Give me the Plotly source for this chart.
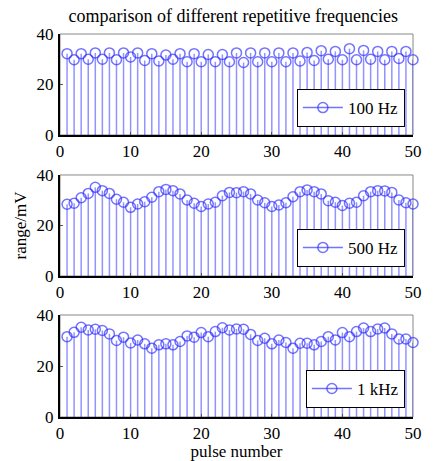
import plotly.graph_objects as go
from plotly.subplots import make_subplots

pulse = list(range(1, 51))

labels = ["100 Hz", "500 Hz", "1 kHz"]

amp_100hz = [32.2, 29.8, 32.2, 30.0, 32.5, 30.0, 32.5, 29.8, 32.5, 30.9,
             32.5, 29.5, 32.2, 29.3, 31.7, 30.0, 32.2, 29.0, 32.2, 29.0,
             31.9, 29.0, 31.9, 29.0, 32.5, 28.7, 32.5, 29.0, 32.5, 29.0,
             32.5, 29.0, 32.5, 29.3, 32.7, 29.5, 33.4, 30.0, 33.1, 29.8,
             34.2, 29.8, 33.5, 30.0, 33.1, 29.8, 33.1, 30.3, 33.1, 29.8]

amp_500hz = [28.4, 28.8, 31.0, 32.7, 35.1, 33.8, 32.7, 30.4, 29.2, 27.2,
             28.5, 29.4, 31.2, 33.4, 34.3, 33.8, 32.5, 30.1, 28.8, 27.5,
             28.5, 29.2, 31.8, 33.1, 33.0, 33.4, 32.5, 30.1, 29.0, 27.5,
             28.1, 29.0, 31.4, 33.4, 34.1, 33.4, 32.5, 29.8, 29.2, 27.9,
             28.8, 29.2, 31.8, 33.4, 33.8, 33.7, 33.1, 30.1, 29.0, 28.5]

amp_1khz = [31.5, 33.2, 35.2, 34.1, 34.4, 33.9, 32.6, 30.0, 31.3, 29.0,
            30.2, 28.7, 27.0, 28.3, 28.7, 28.3, 29.6, 31.8, 31.3, 33.1,
            31.5, 33.5, 35.0, 34.1, 34.5, 34.4, 32.4, 30.0, 30.9, 28.7,
            30.2, 29.2, 27.0, 28.9, 28.9, 28.3, 29.6, 31.5, 30.2, 33.1,
            31.5, 33.5, 34.9, 33.5, 34.5, 34.9, 32.6, 30.6, 30.6, 29.2]

series = [amp_100hz, amp_500hz, amp_1khz]

x_ticks = [0, 10, 20, 30, 40, 50]
y_ticks = [0, 20, 40]

FONT = "Liberation Serif"
STEM = "rgba(40,40,255,0.5)"
MARK = "rgba(40,40,255,0.65)"

fig = make_subplots(rows=3, cols=1, vertical_spacing=0.1)

domains = [[0.7363, 1.0], [0.3681, 0.6319], [0.0, 0.2663]]
legend_y = [0.757, 0.392, 0.0235]
legend_names = ["legend", "legend2", "legend3"]

for i, (vals, lab) in enumerate(zip(series, labels)):
    r = i + 1
    # stems
    sx, sy = [], []
    for xv, yv in zip(pulse, vals):
        sx += [xv, xv, None]
        sy += [0, yv, None]
    fig.add_trace(go.Scatter(x=sx, y=sy, mode="lines",
                             line=dict(color=STEM, width=1.5),
                             showlegend=False, hoverinfo="skip",
                             cliponaxis=False), row=r, col=1)
    fig.add_trace(go.Scatter(x=pulse, y=vals, mode="markers",
                             marker=dict(symbol="circle-open", size=10, color=MARK,
                                         line=dict(color=MARK, width=1.5)),
                             showlegend=False, cliponaxis=False), row=r, col=1)
    # legend entry
    fig.add_trace(go.Scatter(x=[None], y=[None], mode="lines+markers", name=lab,
                             line=dict(color=MARK, width=1.5),
                             marker=dict(symbol="circle-open", size=10, color=MARK,
                                         line=dict(color=MARK, width=1.5)),
                             legend=legend_names[i]), row=r, col=1)

    ax = "" if r == 1 else str(r)
    fig.update_xaxes(row=r, col=1, range=[0, 50], tickvals=x_ticks,
                     showgrid=False, zeroline=False, showline=True,
                     linecolor="black", linewidth=2, ticks="inside",
                     ticklen=3, tickcolor="#555", ticklabelstandoff=0,
                     automargin=False,
                     tickfont=dict(family=FONT, size=17, color="black"))
    fig.update_yaxes(row=r, col=1, range=[0, 40], tickvals=y_ticks,
                     domain=domains[i], automargin=False,
                     showgrid=False, zeroline=False, showline=True,
                     linecolor="black", linewidth=2, ticks="inside",
                     ticklen=3, tickcolor="#555", ticklabelstandoff=1,
                     tickfont=dict(family=FONT, size=17, color="black"))
    fig.add_shape(type="rect", xref=f"x{ax} domain", yref=f"y{ax} domain",
                  x0=0, x1=1, y0=0, y1=1, line=dict(color="#888", width=1),
                  layer="below")

fig.update_xaxes(row=3, col=1, title=dict(text="pulse number", standoff=0,
                 font=dict(family=FONT, size=17, color="black")))
fig.update_yaxes(row=2, col=1, title=dict(text="range/mV", standoff=6,
                 font=dict(family=FONT, size=17, color="black")))

legend_style = dict(xanchor="right", yanchor="bottom", x=0.977,
                    bgcolor="white", bordercolor="black", borderwidth=1,
                    font=dict(family=FONT, size=17, color="black"),
                    itemwidth=40, tracegroupgap=0)
fig.update_layout(
    width=440, height=461,
    margin=dict(l=60, r=27, t=34, b=44),
    paper_bgcolor="white", plot_bgcolor="white",
    title=dict(text="comparison of different repetitive frequencies",
               x=0.53, xanchor="center", y=0.967, yanchor="middle",
               font=dict(family=FONT, size=18, color="black")),
    legend=dict(y=legend_y[0], **legend_style),
    legend2=dict(y=legend_y[1], **legend_style),
    legend3=dict(y=legend_y[2], **legend_style),
    showlegend=True,
)

fig.write_html("out.html")
